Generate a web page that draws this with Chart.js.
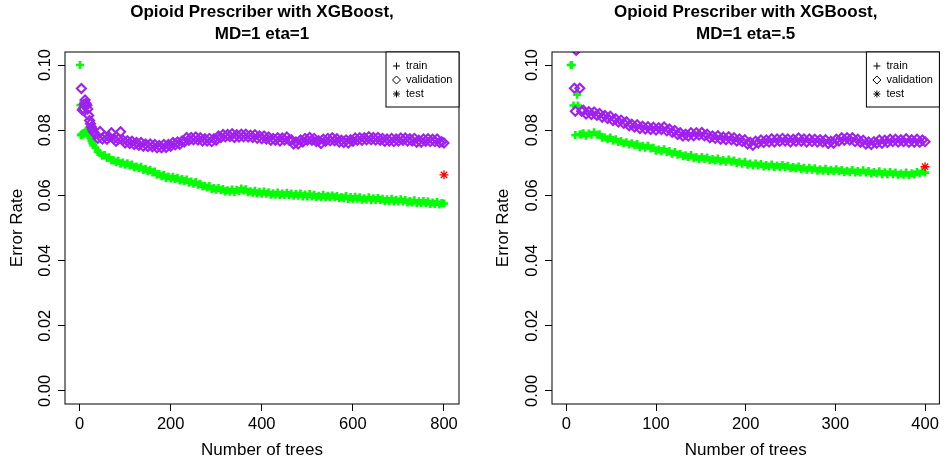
<!DOCTYPE html>
<html>
<head>
<meta charset="utf-8">
<title>Opioid Prescriber with XGBoost</title>
<script src="https://cdn.jsdelivr.net/npm/chart.js@4.4.0/dist/chart.umd.min.js"></script>
<style>
  body { margin: 0; background: #fff; }
  .panel { position: absolute; top: 0; }
</style>
</head>
<body>
<canvas id="eta1" class="panel" width="473" height="464" style="left:0"></canvas>
<canvas id="eta05" class="panel" width="473" height="464" style="left:473px"></canvas>
<script>
// boosting rounds are logged every tree; these are the rounds we plot
const steps = (from, to, by) => {
  const out = [];
  for (let t = from; t <= to; t += by) out.push(t);
  return out;
};

const yTicks = [0, 0.02, 0.04, 0.06, 0.08, 0.10];
const xTicksEta1 = [0, 200, 400, 600, 800];
const xTicksEta05 = [0, 100, 200, 300, 400];

// ---- MD=1, eta=1 (800 trees) ----
const treesEta1 = [1, 2, 3, 4, 6, 8, 10, 12, 14, 16, 18, 20, 22, 24, 26, 28, 30, ...steps(35, 800, 5)];
const trainEta1 = [
  0.1000, 0.0877, 0.0785, 0.0786, 0.0789, 0.0787, 0.0790, 0.0794, 0.0798, 0.0800,
  0.0797, 0.0790, 0.0782, 0.0775, 0.0768, 0.0761, 0.0754,
  0.0747, 0.0733, 0.0730, 0.0722, 0.0724, 0.0715, 0.0717, 0.0707, 0.0708, 0.0702,
  0.0706, 0.0697, 0.0701, 0.0694, 0.0699, 0.0692, 0.0695, 0.0686, 0.0689, 0.0683,
  0.0688, 0.0678, 0.0682, 0.0674, 0.0679, 0.0670, 0.0673, 0.0663, 0.0666, 0.0659,
  0.0663, 0.0653, 0.0658, 0.0652, 0.0657, 0.0650, 0.0654, 0.0646, 0.0650, 0.0644,
  0.0649, 0.0639, 0.0643, 0.0636, 0.0641, 0.0633, 0.0636, 0.0627, 0.0630, 0.0624,
  0.0629, 0.0619, 0.0623, 0.0617, 0.0623, 0.0616, 0.0620, 0.0612, 0.0616, 0.0611,
  0.0618, 0.0610, 0.0617, 0.0613, 0.0621, 0.0615, 0.0619, 0.0610, 0.0613, 0.0608,
  0.0614, 0.0606, 0.0611, 0.0605, 0.0612, 0.0605, 0.0610, 0.0602, 0.0607, 0.0602,
  0.0609, 0.0601, 0.0606, 0.0601, 0.0608, 0.0601, 0.0606, 0.0599, 0.0604, 0.0599,
  0.0606, 0.0597, 0.0603, 0.0597, 0.0604, 0.0597, 0.0602, 0.0595, 0.0599, 0.0595,
  0.0602, 0.0594, 0.0599, 0.0594, 0.0600, 0.0594, 0.0598, 0.0591, 0.0595, 0.0591,
  0.0598, 0.0589, 0.0595, 0.0589, 0.0596, 0.0590, 0.0594, 0.0587, 0.0591, 0.0587,
  0.0594, 0.0585, 0.0591, 0.0586, 0.0592, 0.0586, 0.0590, 0.0583, 0.0588, 0.0583,
  0.0590, 0.0581, 0.0587, 0.0581, 0.0588, 0.0581, 0.0586, 0.0578, 0.0583, 0.0578,
  0.0585, 0.0576, 0.0582, 0.0577, 0.0583, 0.0577, 0.0581, 0.0574, 0.0578, 0.0574,
  0.0580, 0.0572, 0.0577, 0.0575
];
const validEta1 = [
  null, null, null, 0.0928, 0.0862, 0.0867, 0.0880, 0.0893, 0.0882, 0.0877,
  0.0865, 0.0845, 0.0830, 0.0820, 0.0810, 0.0803, 0.0796,
  0.0788, 0.0775, 0.0796, 0.0773, 0.0781, 0.0772, 0.0779, 0.0792, 0.0774, 0.0766,
  0.0773, 0.0795, 0.0770, 0.0761, 0.0768, 0.0759, 0.0766, 0.0756, 0.0762, 0.0754,
  0.0762, 0.0751, 0.0758, 0.0750, 0.0758, 0.0749, 0.0756, 0.0746, 0.0753, 0.0746,
  0.0756, 0.0747, 0.0756, 0.0751, 0.0762, 0.0755, 0.0764, 0.0757, 0.0767, 0.0764,
  0.0778, 0.0769, 0.0778, 0.0771, 0.0779, 0.0770, 0.0777, 0.0767, 0.0774, 0.0767,
  0.0775, 0.0765, 0.0774, 0.0769, 0.0782, 0.0778, 0.0787, 0.0780, 0.0787, 0.0781,
  0.0789, 0.0778, 0.0786, 0.0779, 0.0788, 0.0780, 0.0788, 0.0779, 0.0785, 0.0778,
  0.0786, 0.0775, 0.0782, 0.0774, 0.0782, 0.0773, 0.0779, 0.0769, 0.0775, 0.0769,
  0.0777, 0.0767, 0.0776, 0.0770, 0.0779, 0.0769, 0.0771, 0.0758, 0.0764, 0.0758,
  0.0770, 0.0764, 0.0775, 0.0769, 0.0778, 0.0769, 0.0775, 0.0765, 0.0768, 0.0759,
  0.0772, 0.0766, 0.0775, 0.0768, 0.0777, 0.0768, 0.0774, 0.0764, 0.0769, 0.0762,
  0.0770, 0.0761, 0.0771, 0.0766, 0.0776, 0.0769, 0.0777, 0.0769, 0.0777, 0.0771,
  0.0780, 0.0771, 0.0778, 0.0770, 0.0778, 0.0769, 0.0775, 0.0766, 0.0773, 0.0767,
  0.0775, 0.0765, 0.0773, 0.0767, 0.0776, 0.0769, 0.0776, 0.0767, 0.0774, 0.0767,
  0.0775, 0.0763, 0.0769, 0.0763, 0.0773, 0.0766, 0.0774, 0.0765, 0.0772, 0.0765,
  0.0773, 0.0762, 0.0765, 0.0761
];
const testTreesEta1 = [800];
const testEta1 = [0.0663];

// ---- MD=1, eta=.5 (400 trees) ----
const treesEta05 = [5, 6, 8, 9, 10, 11, 12, 13, 15, 17, ...steps(19, 400, 3)];
const trainEta05 = [
  0.1000, 0.1000, 0.0876, null, 0.0785, null, 0.0909, 0.0876, 0.0787, 0.0788,
  0.0791, 0.0783, 0.0790, 0.0786, 0.0794, 0.0786, 0.0788, 0.0777, 0.0778, 0.0772,
  0.0778, 0.0768, 0.0772, 0.0764, 0.0767, 0.0759, 0.0763, 0.0756, 0.0760, 0.0754,
  0.0758, 0.0747, 0.0752, 0.0746, 0.0752, 0.0744, 0.0746, 0.0737, 0.0741, 0.0736,
  0.0742, 0.0733, 0.0736, 0.0728, 0.0733, 0.0725, 0.0728, 0.0720, 0.0723, 0.0718,
  0.0724, 0.0714, 0.0718, 0.0712, 0.0718, 0.0712, 0.0716, 0.0708, 0.0712, 0.0707,
  0.0713, 0.0704, 0.0709, 0.0703, 0.0710, 0.0703, 0.0707, 0.0699, 0.0703, 0.0697,
  0.0703, 0.0694, 0.0698, 0.0692, 0.0698, 0.0692, 0.0696, 0.0689, 0.0693, 0.0689,
  0.0695, 0.0687, 0.0692, 0.0687, 0.0693, 0.0687, 0.0691, 0.0683, 0.0687, 0.0683,
  0.0689, 0.0680, 0.0685, 0.0679, 0.0685, 0.0679, 0.0683, 0.0676, 0.0680, 0.0676,
  0.0682, 0.0674, 0.0679, 0.0674, 0.0680, 0.0674, 0.0678, 0.0671, 0.0676, 0.0671,
  0.0678, 0.0670, 0.0675, 0.0670, 0.0677, 0.0670, 0.0675, 0.0667, 0.0672, 0.0667,
  0.0674, 0.0665, 0.0671, 0.0665, 0.0672, 0.0665, 0.0670, 0.0663, 0.0667, 0.0663,
  0.0670, 0.0662, 0.0668, 0.0664, 0.0672, 0.0667, 0.0674, 0.0670
];
const validEta05 = [
  null, null, null, 0.0929, 0.0858, 0.1045, null, null, 0.0929, 0.0858,
  0.0861, 0.0850, 0.0857, 0.0848, 0.0856, 0.0846, 0.0851, 0.0840, 0.0845, 0.0836,
  0.0843, 0.0830, 0.0835, 0.0825, 0.0831, 0.0821, 0.0826, 0.0814, 0.0818, 0.0810,
  0.0817, 0.0805, 0.0812, 0.0804, 0.0811, 0.0802, 0.0809, 0.0801, 0.0808, 0.0802,
  0.0810, 0.0798, 0.0804, 0.0794, 0.0799, 0.0787, 0.0792, 0.0782, 0.0788, 0.0782,
  0.0792, 0.0783, 0.0792, 0.0785, 0.0793, 0.0783, 0.0788, 0.0777, 0.0782, 0.0775,
  0.0783, 0.0772, 0.0779, 0.0771, 0.0780, 0.0771, 0.0777, 0.0767, 0.0773, 0.0765,
  0.0771, 0.0758, 0.0763, 0.0754, 0.0766, 0.0761, 0.0770, 0.0762, 0.0770, 0.0764,
  0.0774, 0.0764, 0.0773, 0.0766, 0.0775, 0.0767, 0.0773, 0.0764, 0.0772, 0.0766,
  0.0776, 0.0766, 0.0773, 0.0764, 0.0773, 0.0765, 0.0772, 0.0764, 0.0771, 0.0764,
  0.0771, 0.0759, 0.0766, 0.0760, 0.0772, 0.0767, 0.0777, 0.0769, 0.0777, 0.0770,
  0.0777, 0.0765, 0.0772, 0.0763, 0.0769, 0.0758, 0.0764, 0.0756, 0.0765, 0.0760,
  0.0770, 0.0760, 0.0769, 0.0762, 0.0772, 0.0765, 0.0772, 0.0764, 0.0771, 0.0765,
  0.0774, 0.0763, 0.0771, 0.0763, 0.0772, 0.0763, 0.0770, 0.0765
];
const testTreesEta05 = [400];
const testEta05 = [0.0688];

const GREEN = '#00FF00';
const PURPLE = '#A020F0';
const RED = '#FF0000';
const FONT = '"Liberation Sans", Arial, Helvetica, sans-serif';

Chart.defaults.font.family = FONT;
Chart.defaults.color = '#000';

const toPoints = (xs, ys) => xs.map((x, i) => ({ x, y: ys[i] }));

const legendEntries = [
  { text: 'train', pointStyle: 'cross', radius: 3.5 },
  { text: 'validation', pointStyle: 'rectRot', radius: 4 },
  { text: 'test', pointStyle: 'star', radius: 3.5 }
];

// plot frame plus the boxed legend in the top-right corner
const framePlugin = {
  id: 'frame',
  afterDraw(chart) {
    const { ctx, chartArea: a } = chart;
    ctx.save();
    ctx.strokeStyle = '#000';
    ctx.lineWidth = 1;
    ctx.strokeRect(a.left, a.top, a.right - a.left, a.bottom - a.top);

    const boxW = 73, boxH = 55;
    const bx = a.right - boxW, by = a.top;
    ctx.fillStyle = '#fff';
    ctx.fillRect(bx, by, boxW, boxH);
    ctx.strokeRect(bx, by, boxW, boxH);

    ctx.font = '11px ' + FONT;
    ctx.textBaseline = 'middle';
    ctx.textAlign = 'left';
    legendEntries.forEach((e, i) => {
      const y = by + 14 + i * 14;
      ctx.strokeStyle = '#000';
      ctx.fillStyle = 'rgba(0,0,0,0)';
      Chart.helpers.drawPoint(ctx, { pointStyle: e.pointStyle, rotation: 0, radius: e.radius, borderWidth: 1 }, bx + 10.5, y);
      ctx.fillStyle = '#000';
      ctx.fillText(e.text, bx + 20, y);
    });
    ctx.restore();
  }
};

function makePanel(canvasId, cfg) {
  return new Chart(document.getElementById(canvasId), {
    type: 'scatter',
    data: {
      datasets: [
        {
          label: 'test',
          data: toPoints(cfg.testTrees, cfg.test),
          pointStyle: 'star',
          pointRadius: 4.5,
          borderColor: RED,
          backgroundColor: RED,
          pointBorderWidth: 1.3,
          order: 0,
          clip: 0
        },
        {
          label: 'validation',
          data: toPoints(cfg.trees, cfg.valid),
          pointStyle: 'rectRot',
          pointRadius: 4.5,
          borderColor: PURPLE,
          backgroundColor: 'rgba(0,0,0,0)',
          pointBorderWidth: 2.1,
          order: 1,
          clip: 0
        },
        {
          label: 'train',
          data: toPoints(cfg.trees, cfg.train),
          pointStyle: 'cross',
          pointRadius: 4,
          borderColor: GREEN,
          backgroundColor: GREEN,
          pointBorderWidth: 2.6,
          order: 2,
          clip: 0
        }
      ]
    },
    options: {
      responsive: false,
      animation: false,
      events: [],
      layout: { padding: { top: 0, right: cfg.padRight, bottom: 0, left: 0 } },
      plugins: {
        legend: { display: false },
        tooltip: { enabled: false },
        title: {
          display: true,
          fullSize: false,
          text: ['Opioid Prescriber with XGBoost,', cfg.subtitle],
          color: '#000',
          font: { size: 17, weight: 'bold', lineHeight: 1.3 },
          padding: { top: 1.3, bottom: 6.5 }
        }
      },
      scales: {
        x: {
          type: 'linear',
          min: cfg.xMin,
          max: cfg.xMax,
          afterBuildTicks: (s) => { s.ticks = cfg.xTicks.map((v) => ({ value: v })); },
          afterFit: (s) => { s.height = 60; },
          border: { display: false },
          grid: { drawOnChartArea: false, drawTicks: true, tickLength: 7, tickColor: '#000', tickWidth: 1 },
          ticks: { autoSkip: false, maxRotation: 0, padding: 3.4, color: '#000', font: { size: 16.5 }, callback: (v) => String(v) },
          title: { display: true, text: 'Number of trees', color: '#000', font: { size: 17 }, padding: { top: 0, bottom: 3.8 } }
        },
        y: {
          type: 'linear',
          min: -0.004,
          max: 0.104,
          afterBuildTicks: (s) => { s.ticks = yTicks.map((v) => ({ value: v })); },
          afterFit: (s) => { s.width = cfg.yWidth; },
          border: { display: false },
          grid: { drawOnChartArea: false, drawTicks: true, tickLength: 7, tickColor: '#000', tickWidth: 1 },
          ticks: {
            autoSkip: false,
            minRotation: 90,
            maxRotation: 90,
            crossAlign: 'center',
            padding: -4,
            color: '#000',
            font: { size: 16.5 },
            callback: (v) => Number(v).toFixed(2)
          },
          title: { display: true, text: 'Error Rate', color: '#000', font: { size: 17 }, padding: { top: cfg.yTitlePad, bottom: 0 } }
        }
      }
    },
    plugins: [framePlugin]
  });
}

makePanel('eta1', {
  subtitle: 'MD=1 eta=1',
  trees: treesEta1, train: trainEta1, valid: validEta1,
  testTrees: testTreesEta1, test: testEta1,
  xMin: -32, xMax: 833, xTicks: xTicksEta1,
  yWidth: 65, yTitlePad: 7.2, padRight: 14
});

makePanel('eta05', {
  subtitle: 'MD=1 eta=.5',
  trees: treesEta05, train: trainEta05, valid: validEta05,
  testTrees: testTreesEta05, test: testEta05,
  xMin: -16, xMax: 416, xTicks: xTicksEta05,
  yWidth: 79, yTitlePad: 20.6, padRight: 0.7
});
</script>
</body>
</html>
